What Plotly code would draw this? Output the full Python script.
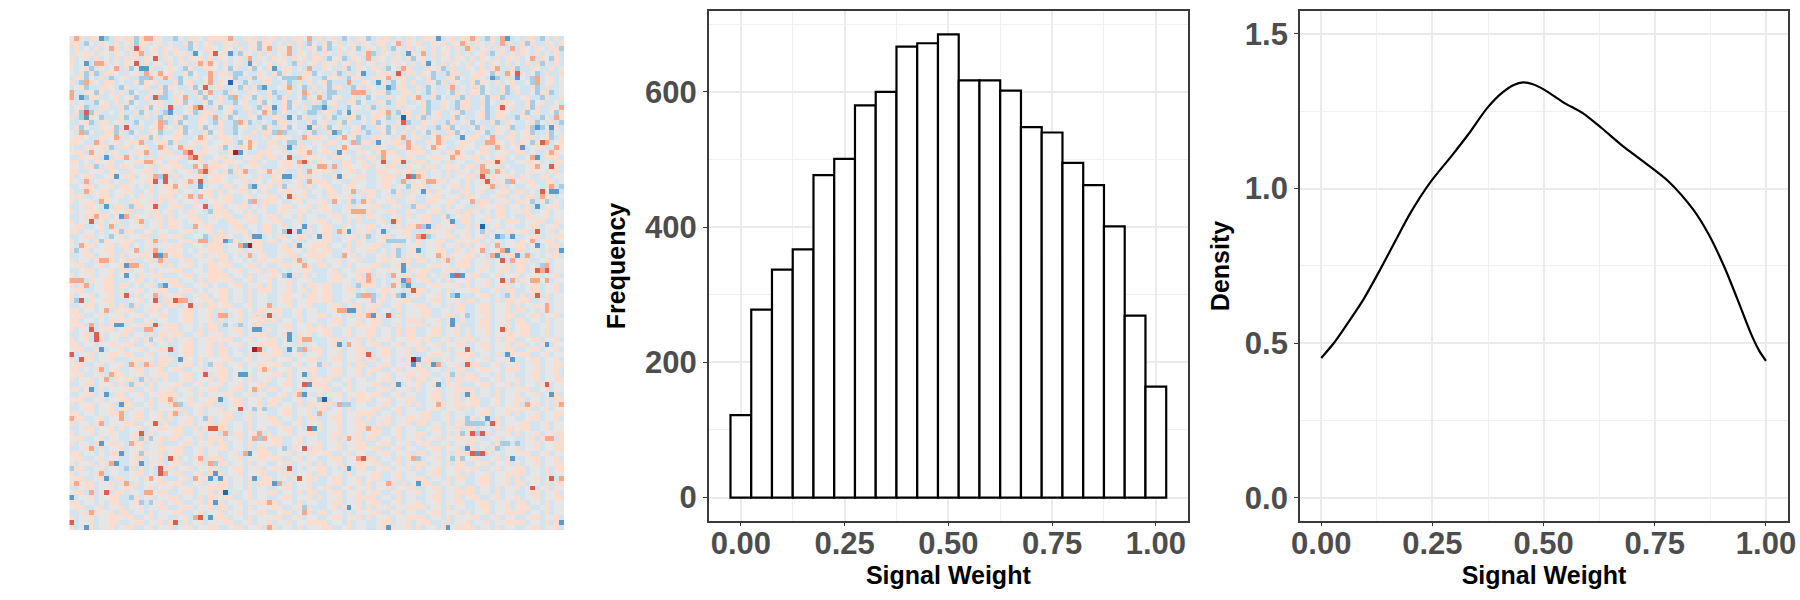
import plotly.graph_objects as go

# Histogram counts per 0.05-wide bin, centred on 0.00, 0.05, ... 1.00
bin_centers = [0.00, 0.05, 0.10, 0.15, 0.20, 0.25, 0.30, 0.35, 0.40, 0.45, 0.50,
               0.55, 0.60, 0.65, 0.70, 0.75, 0.80, 0.85, 0.90, 0.95, 1.00]
bin_counts = [122, 278, 337, 367, 477, 501, 580, 600, 667, 672, 685,
              617, 617, 602, 548, 540, 495, 462, 401, 269, 164]

# Kernel density of the same weights
density_x = [0.0, 0.028, 0.0585, 0.095, 0.132, 0.166, 0.2, 0.2435, 0.295, 0.33, 0.373,
             0.407, 0.433, 0.454, 0.476, 0.502, 0.545, 0.588, 0.631, 0.682, 0.734,
             0.781, 0.837, 0.872, 0.906, 0.936, 0.966, 0.984, 1.0]
density_y = [0.4526, 0.5, 0.5626, 0.642, 0.737, 0.829, 0.92, 1.017, 1.109, 1.174, 1.26,
             1.31, 1.335, 1.343, 1.337, 1.319, 1.278, 1.244, 1.195, 1.133, 1.077,
             1.023, 0.931, 0.85, 0.748, 0.642, 0.532, 0.478, 0.443]

x_ticks = [0, 0.25, 0.5, 0.75, 1]
x_tick_labels = ["0.00", "0.25", "0.50", "0.75", "1.00"]
x_minor = [0.125, 0.375, 0.625, 0.875]
count_ticks = [0, 200, 400, 600]
count_minor = [100, 300, 500, 700]
density_ticks = [0, 0.5, 1, 1.5]
density_labels = ["0.0", "0.5", "1.0", "1.5"]
density_minor = [0.25, 0.75, 1.25]

# Colour bands of the weight matrix, blue (low) through grey to red (high)
level_colors = ["#2166ac", "#5a9bcb", "#a6cde4", "#d3e4f1", "#e6e6e6",
                "#fcdccd", "#f6a888", "#d9604c", "#b2182b"]

# Weight matrix as colour bands, one string per row, columns grouped in tens
cell_rows = [
    "4653551235 4552566543 3243554355 5563354535 4535355463 5345324354 2345534354 3554134535 5653253613 4355324353",
    "5532435435 3452553453 4335253453 3545335425 5343535324 3524534535 4355346354 5335453546 5354353653 3525335435",
    "3534353465 3537534535 4533243554 3543534525 6354635354 2523543523 5435324353 4535345353 6534535436 3543543552",
    "3545535435 4355635435 3545314357 4513254353 5345635435 3543535435 6235435315 4635354353 5345324535 3543534353",
    "5345353435 3545354735 4353545353 5434536354 3545354535 5324523543 6354354352 4535345354 3535435354 5346354253",
    "5341366534 3547353543 5345356564 3534531534 5354325345 3545345353 4535345435 3514353543 5345354353 4353524353",
    "5345235346 3524115334 5432533554 3425335243 5135534363 3543352354 3553243653 3354523533 5435356335 2335433534",
    "4352523554 3345363564 5335243363 5532243354 3525433552 4335235341 3345537355 3542332553 3455425365 7534235335",
    "3552435323 4533226356 5324353463 4452335254 5342226543 3254532553 3554635533 4352335524 3554312353 1432634534",
    "5326543553 4335254533 3524533563 5405324335 5334235353 4523336335 4315324535 3354253543 3525435345 3342634534",
    "3452335543 2533453352 5433524735 5334253521 3345634235 3425533253 5433125533 5324335634 3552433525 4335235334",
    "6335425353 5324335452 3453352563 3254335433 5233534653 5322333666 3455233553 4325334254 3552433523 5334255234",
    "6312553345 3452353722 3546335243 5326354253 5325334254 6324533534 2433534535 6335243532 5334255233 3453325335",
    "5343324535 3524335453 3552433524 5332453352 4335254335 3245335524 3354235533 4523354325 5335243554 3352453343",
    "3452335533 5243352453 7334567335 2453354325 5135243532 2135332443 5235335344 3523354325 5334235745 3352533546",
    "3527253343 5335243532 1334523553 3452335346 5235334322 3553241533 3455632553 3524533452 3345235543 3524533425",
    "5321542333 5243353325 3452335536 3524335423 3553142533 4352335524 3554233053 5234533524 3345235533 2453324365",
    "3345235534 5332433562 3524335432 5332652334 3255343352 4533525334 3524335723 3545332534 5243352354 3345243532",
    "3524335452 3733534565 4352335243 5332453352 5335243315 3524533452 3354253353 4533255243 3425335452 3352124153",
    "4362433552 5324335423 3552433524 5332433535 5262334352 3351243553 2335243535 3425335524 3354235435 3452335243",

    "4554335546 5343552534 4553346543 5543455335 3455433655 5433564523 3554435634 5334655431 4553463355 3455345235",
    "5543365345 3455633455 2533455534 4553246533 5534225334 4355343625 5314455364 3354653345 5433665435 3542576345",
    "4335545523 5534453365 3465533544 5243556433 5453135543 4533564453 3554335465 5346543355 4435536534 5134553364",
    "4553645354 3345563345 5336745544 3359143355 5445345563 4553153345 4356553345 5534435564 3345534453 5534335654",
    "3354553135 5643435354 4453675334 5543344553 5534733545 4435544353 5536445354 3345544655 4553435534 3346135553",
    "5534354453 3445566543 5533445345 3554435534 3345546753 5443355345 3547355735 5534435344 3354557533 4455434355",
    "4435523553 5543345354 4553364655 5435344553 3345545334 6636355445 5344553354 4355345543 5536445343 3345644753",
    "5533445354 3354455345 5344536754 3525563345 6454335365 4553345534 3355445453 5534435354 4356636534 3345443553",
    "5345533451 4553445627 3534455345 5433544353 3541135534 4335154455 3345553471 6534435344 5537354455 3543355344",
    "5436345534 3354455737 4345637355 5434453543 4553345365 5534433544 3345543635 4566553443 5345735426 4455335534",
    "3345534453 5543435345 5645331344 3553452154 5352445353 4553345544 3345534425 5534434553 5344563534 3345435632",
    "5336545534 4553345344 5534434553 5344553435 3345544534 4355344635 5534425335 4153544335 5345334553 5534374113",
    "4553345534 5343544355 5345636453 4553345344 5534754533 4355445343 5534435354 3345534453 5543345534 4355364534",
    "5344536544 3355445353 5434453345 4553352635 5543345344 4536435236 5344553345 3355445534 4635534453 5542352343",
    "3345543135 5325544733 4553354735 5344553435 3345534453 5543345354 4553345332 5534435344 3355445534 4353134553",
    "5344553345 4553345534 5343544325 5534435344 3355445534 4553345666 5344553354 3345534453 5543435534 4553345344",
    "3345565534 1635443553 5344553345 4553354534 5534435344 3345534453 5543345353 4553352345 5344535534 3355445344",
    "5344735345 3345634453 5543455344 3355445534 4553345344 5534435353 3345375344 4553345135 5343544355 5344553354",
    "4553345363 5344534453 5543364553 3345534435 5345344153 4553354344 5534435355 6213544533 5350345344 3345534453",
    "5534435345 2553345344 3345534453 5344553435 5342831353 4553651354 5341344553 3355445344 5342534455 4553734534",

    "3345534324 5344553355 4553344235 5543345113 4355345534 1553344535 2345534453 6723445534 5345341231 3345534455",
    "5344352544 4553345635 3345536635 5125344553 5534435344 4553345354 3345222243 5344553345 4553435344 3546345534",
    "4365534453 5534345344 4553344355 5344618553 3345351445 5534435354 4553345344 5344534453 5345346344 5534134553",
    "5245344553 3546345635 5543434455 5344534453 3345544355 4553345344 5534352345 1344553354 3546345613 5534435351",
    "3345534453 5344554716 4553345344 5534356345 3344553455 5543364534 3345352354 5344653544 5534361345 1363434553",
    "5344356653 4553345365 3345534453 5534434355 4553356344 5344534453 3345544553 5534356345 5344534736 4553345344",
    "4553345344 5166534453 5344534355 4553345534 3345544653 5534435344 4553345153 3345544355 5344534453 5534326344",
    "3345534453 5534435344 4553344355 5344534453 5534344553 3345344355 5344544135 4553345534 3345434553 5534767344",
    "5344534453 4143544553 3345534455 5534435344 4542153534 3345534453 6344364553 5534353171 4553345344 5344534453",
    "6663544553 3345534344 5534435355 4553345344 5344534453 3345544355 6534345163 4553435344 5344534736 3546646344",
    "5356344553 5534345321 4553344534 3345534453 5344534355 4553345325 5534364213 3345544453 5344534553 4345534453",
    "4553344553 5344534455 3345534344 5534435355 5344534535 4553345534 3345544357 5534435344 4553345355 3345534453",
    "5344534453 5735344635 4553345534 5534435344 3345544355 4553344426 6235352134 5344534213 3345534325 3535735344",
    "5273544553 3344534735 5766344553 5534435344 3345534455 4553345344 5245344553 3345534453 5534435355 4553345344",
    "3345534453 5325344553 5534735355 4553345344 6344534453 3345534553 4553345344 5534435355 3345534453 5344546344",
    "5534434635 4553345534 3345534453 5344534355 4553345344 3345661153 5534435344 4553344355 3345534453 5534356344",
    "4553345344 5344534455 3345534453 6634534553 7353345344 5534435355 6153735344 4553345534 2344534455 3345534453",
    "5534434355 4553345344 3345534453 5344534455 5534435344 3345534453 4553344355 5344534135 3345534453 5534435344",
    "4553635351 1344553735 5534434355 3243234553 3345534453 5344534455 4553345344 5534435153 3345534453 4553345344",
    "5344734553 4553366344 5534435355 3345534113 5344534455 4553345344 5534435355 3345534453 5344534753 4553345344",

    "3345375344 5534435355 4553345344 5344534455 3345135453 4553345344 5534435355 3345534453 5344534455 4553345344",
    "5345375344 3345352453 5344534455 4553345344 5534135663 3345534453 5344534455 4553345344 5534435355 3345534453",
    "5534434455 4553345344 3345534453 5344534455 5534435354 3345136453 4553345344 5344534455 3345534453 5534351344",
    "4553351344 5344534455 7345534453 5534334873 4553142635 5344534455 3345534453 5534435344 7344534455 3345534453",
    "7344534455 4553345344 3345534453 5534435355 4553345344 5344534455 7345534453 3345544355 5534435315 4553345344",
    "5375534453 3345544355 5315435344 4553345344 5344534455 3345534453 5534434358 1553345344 5344534451 3345534453",
    "4553345344 5365365355 3345534325 5344534455 4553345344 2534435355 3345534451 5351634453 7553345344 5344534455",
    "5534356345 3345534453 4553345344 5534434356 5344534455 3345534453 4553345344 5534435355 3345544355 5344534453",
    "4553345365 5344534455 3345534735 5534115344 4553534135 3345534453 5344534455 4553345253 5534435344 3345534453",
    "5344534635 4553253535 3345534453 5534435344 5344534455 4553345344 3345534453 5534435355 4553345344 5344534455",
    "3345534453 5325435344 4553345344 5344534455 3345534715 5534435344 4553351344 5345135453 3345534453 5344357344",
    "5534135344 4553345344 5344534455 3345534653 5534435344 4553345344 3345534453 5344534455 5534435344 4553345344",
    "3345534135 5344534455 5534435344 4553345344 3345356153 5344534455 4553345344 3345534453 1534435344 5344534153",
    "4553345344 5534435355 6344534455 1345534453 4553345344 2034435355 5344534455 3345534453 4553345344 5534435355",
    "5344534453 1553345344 5623544553 3345534453 5534435355 4553622344 3345534453 5344654455 4553345344 5365534356",
    "3345534453 5534435344 4553345344 5344734252 3345534453 5534435344 4553345344 3345534453 5344534455 4553345344",
    "5534434455 6345534453 5635345344 4553345344 3345534453 6344534455 5534435344 4553345344 3345534453 5344534455",
    "6553345344 6345534453 5344534253 4553345344 5534435355 3345534453 5344534455 4553345344 2534135344 3345534453",
    "5344356344 4553345735 3345534453 5534435344 4553345344 5344534455 3345534453 5534435355 2222375344 4553345344",
    "3345534453 5344534455 4553353577 5534435344 3345534371 5344534455 6553345344 3345534453 5534435355 4553345344",

    "5344534454 3345735344 4553345344 3635534563 5344534455 3345534453 4553345344 5534435352 5727534453 5344534455",
    "4553345344 3345252453 5534435355 5344534626 4553345344 3345356453 5534435344 5344534455 4553345344 3345356635",
    "5344351455 4365534453 3345534453 5534435344 4553345344 5344534455 3345534453 4553345344 5534435223 2344534455",
    "3345635344 5344534455 4553345344 5534435355 3342354735 5344534455 4553345344 3345534453 1534352344 5344534455",
    "5534434355 1345254453 4553345344 3345361455 5344534455 4553345344 3345534453 5534435355 5717534344 4553345344",
    "4553345344 3345534453 7534356355 5344534455 4553345344 3345534467 5534435356 2344534252 4553345351 3345534453",
    "5344534561 3345135453 4553345362 5534435344 3345534453 5344534455 4553345344 5534435355 3345534453 5344534455",
    "2553345344 3253534373 5344534455 3345534453 4553734344 5534351355 3345534453 5344534455 4553345344 5534435355",
    "5344356344 3345534376 4553345351 5344534455 3345534453 5534435344 4553345344 3345534453 5344534455 5534435344",
    "4553345135 5344356453 3345364513 1534435135 5344357455 3345534453 4553345344 5534435355 3345534453 5344534736",
    "5645534453 5635344455 4553345344 5534435355 5163534453 3345534453 5344653534 1553345344 3345534453 5534435355",
    "3345534453 4553345344 5344534455 5534435344 3345534453 4553345344 5344534455 3345534453 5534435344 5347345344",
    "4553634735 5344366455 3345534453 5035345344 5534435355 3345534453 4553345344 5344534455 5534435344 3345534453",
    "1344534455 3325345344 5534435355 4553345344 3345534453 5344534455 5534435344 3345534453 4553345344 5344534455",
    "5534434355 3345232453 4553345351 5344534455 6534435344 3345534453 4553345344 5344534455 3345534453 5534435344",
    "4553345344 5344534455 3345534453 5534435344 4553345253 3345351453 5344534455 5534435344 3345534453 4553345344",
    "3345654453 5534435344 4553345344 5344534455 3345534653 5534435344 4553345344 3345534453 5344534455 5534435344",
    "5344534455 4553345344 3345367315 5534435344 4553345344 3345534453 5344534455 5534435344 4553345344 3345534453",
    "7344534455 3345534453 5735345344 4553345344 5344534455 5534435344 3345534453 4553345344 5344534455 5534435351",
    "5341534453 4553345344 5344534455 3345534453 6534435344 4553345344 3345154453 5344351455 5534435344 3345534453",
]
z_levels = [[int(ch) for ch in row.replace(" ", "")] for row in cell_rows]
cell_ids = list(range(100))

FONT = "Liberation Sans"
GRID = "#ebebeb"
FRAME = "#3a3a3a"
TICK = "#4d4d4d"
W, H = 1800, 600


def dom_x(a, b):
    return [a / W, b / W]


def dom_y(top, bottom):
    return [1 - bottom / H, 1 - top / H]


def axis(ticks, labels, minor, rng, domain, title, standoff, anchor, label_shift=0):
    return dict(
        domain=domain, range=rng, anchor=anchor,
        tickmode="array", tickvals=ticks, ticktext=labels,
        ticks="outside", ticklen=4, tickwidth=1.4, tickcolor="#333333",
        ticklabelstandoff=label_shift,
        tickfont=dict(family=FONT, size=31, color=TICK, weight=700),
        showgrid=True, gridcolor=GRID, gridwidth=1.6,
        minor=dict(tickmode="array", tickvals=minor, showgrid=True,
                   gridcolor="#f0f0f0", gridwidth=0.8, ticks=""),
        showline=True, mirror=True, linecolor=FRAME, linewidth=1.5,
        zeroline=False,
        title=dict(text=title, standoff=standoff,
                   font=dict(family=FONT, size=25, color="#000000", weight=700)),
    )


fig = go.Figure()

fig.add_trace(go.Heatmap(
    z=z_levels, x=cell_ids, y=cell_ids, xaxis="x", yaxis="y", zmin=0, zmax=8, showscale=False,
    colorscale=[[i / 8, c] for i, c in enumerate(level_colors)],
    hoverinfo="skip",
))
fig.add_trace(go.Bar(
    x=bin_centers, y=bin_counts, width=0.05, xaxis="x2", yaxis="y2",
    marker=dict(color="white", line=dict(color="black", width=2.2)),
    showlegend=False,
))
fig.add_trace(go.Scatter(
    x=density_x, y=density_y, xaxis="x3", yaxis="y3", mode="lines",
    line=dict(color="black", width=2.2, shape="spline", smoothing=0.8),
    showlegend=False,
))

fig.update_layout(
    width=W, height=H, margin=dict(l=0, r=0, t=0, b=0, pad=0, autoexpand=False),
    paper_bgcolor="white", plot_bgcolor="white", showlegend=False,
    xaxis=dict(domain=dom_x(69.3, 564), range=[-0.5, 99.5], visible=False, anchor="y"),
    yaxis=dict(domain=dom_y(36, 530), range=[99.5, -0.5], visible=False, anchor="x"),
    xaxis2=axis(x_ticks, x_tick_labels, x_minor, [-0.0775, 1.0775],
                dom_x(708.7, 1188), "Signal Weight", 0, "y2", -10),
    yaxis2=axis(count_ticks, [str(v) for v in count_ticks], count_minor, [-34.25, 719.25],
                dom_y(11.3, 520.7), "Frequency", 12, "x2"),
    xaxis3=axis(x_ticks, x_tick_labels, x_minor, [-0.048, 1.05],
                dom_x(1299.9, 1788.2), "Signal Weight", 0, "y3", -10),
    yaxis3=axis(density_ticks, density_labels, density_minor, [-0.0734, 1.573],
                dom_y(11.3, 520.7), "Density", 8, "x3"),
)

fig.write_html("out.html")
